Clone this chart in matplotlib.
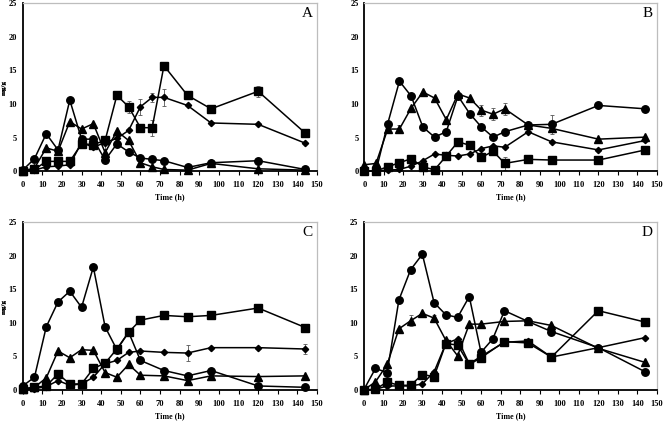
import matplotlib
matplotlib.use("Agg")
import matplotlib.pyplot as plt

# ---------------- data ----------------
times = [0, 6, 12, 18, 24, 30, 36, 42, 48, 54, 60, 66, 72, 84, 96, 120, 144]
times_no66 = [0, 6, 12, 18, 24, 30, 36, 42, 48, 54, 60, 72, 84, 96, 120, 144]

# Panel A
A_square = [0.1, 0.3, 1.5, 1.5, 1.5, 4.1, 4.0, 4.6, 11.3, 9.6, 6.5, 6.5, 15.7, 11.3, 9.3, 11.9, 5.7]
A_diamond = [0.0, 0.2, 0.7, 0.8, 1.0, 4.3, 3.6, 4.3, 4.9, 6.1, 9.6, 11.0, 11.0, 9.8, 7.2, 7.0, 4.2]
A_circle = [0.2, 1.9, 5.6, 3.2, 10.6, 4.8, 4.8, 1.7, 4.1, 2.9, 2.0, 1.8, 1.6, 0.6, 1.3, 1.6, 0.3]
A_triangle = [0.1, 0.5, 3.5, 3.0, 7.4, 6.3, 7.1, 2.8, 6.0, 4.6, 1.3, 0.7, 0.3, 0.2, 1.2, 0.4, 0.2]
A_square_err = [0, 0, 0, 0, 0, 0, 0, 0, 0.6, 0.9, 0, 1.2, 0, 0, 0, 0.8, 0]
A_diamond_err = [0, 0, 0, 0, 0, 0, 0, 0.9, 0, 0, 1.2, 0.7, 1.3, 0, 0, 0, 0]

# Panel B
B_circle = [0.1, 0.1, 7.1, 13.4, 11.2, 6.6, 5.1, 5.9, 11.2, 8.6, 6.6, 5.1, 5.9, 6.9, 7.0, 9.8, 9.3]
B_triangle = [1.0, 1.2, 6.3, 6.3, 9.4, 11.8, 10.9, 7.7, 11.5, 10.9, 9.1, 8.5, 9.3, 6.9, 6.4, 4.8, 5.1]
B_diamond = [0.0, 0.1, 0.2, 0.3, 0.8, 1.6, 2.6, 2.4, 2.3, 2.6, 3.4, 3.8, 3.6, 5.9, 4.4, 3.2, 4.6]
B_square = [0.1, 0.1, 0.7, 1.3, 1.9, 0.7, 0.25, 2.3, 4.4, 3.9, 2.1, 3.0, 1.2, 1.8, 1.7, 1.7, 3.2]
B_triangle_err = [0, 0, 0, 0.6, 0, 0, 0, 0, 0, 0, 0.8, 0.9, 0.9, 0, 0.6, 0, 0]
B_circle_err = [0, 0, 0, 0, 0, 0, 0, 0, 0, 0, 0, 0, 0, 0, 1.4, 0, 0]
B_square_err = [0, 0, 0, 0, 0, 0, 0, 0, 0, 0, 0, 0, 1.0, 0, 0, 0, 0]

# Panel C (no 66 h sample)
C_circle = [0.6, 1.9, 9.4, 13.1, 14.7, 12.3, 18.3, 9.4, 6.0, 8.6, 4.4, 2.9, 2.1, 2.9, 0.6, 0.4]
C_triangle = [0.2, 0.4, 1.8, 5.8, 4.8, 6.0, 5.9, 2.6, 1.9, 3.8, 2.2, 2.1, 1.4, 2.1, 2.0, 2.1]
C_square = [0.1, 0.4, 0.6, 2.4, 0.9, 0.9, 3.2, 4.0, 6.1, 8.6, 10.4, 11.1, 10.9, 11.1, 12.2, 9.3]
C_diamond = [0.0, 0.2, 0.5, 1.4, 0.7, 0.9, 1.9, 3.9, 4.4, 5.6, 5.8, 5.6, 5.5, 6.3, 6.3, 6.1]
C_diamond_err = [0, 0, 0, 0, 0, 0, 0, 0, 0, 0, 0, 0, 1.2, 0, 0, 0.7]
C_square_err = [0, 0, 0, 0, 0, 0, 0, 0, 0, 0, 0, 0, 0, 0, 0.5, 0]

# Panel D (only circle sampled at 66 h)
D_circle = [0.0, 3.2, 2.6, 13.4, 17.9, 20.2, 13.0, 11.2, 10.8, 13.9, 5.6, 7.6, 11.8, 10.2, 8.7, 6.3, 2.7]
D_triangle = [0.0, 1.2, 3.8, 9.1, 10.3, 11.4, 10.7, 7.4, 5.1, 9.8, 9.8, 10.2, 10.3, 9.6, 6.2, 4.1]
D_square = [0.0, 0.1, 1.2, 0.7, 0.7, 2.3, 2.0, 6.9, 6.7, 3.8, 4.8, 7.2, 7.0, 4.9, 11.8, 10.1]
D_diamond = [0.0, 0.1, 0.6, 0.6, 0.6, 0.9, 2.7, 6.9, 7.6, 3.9, 5.0, 7.1, 7.3, 4.9, 6.3, 7.8]
D_triangle_err = [0, 0, 0, 0, 0.8, 0, 0.5, 0, 0, 0, 0, 0, 0.6, 0, 0, 0]

x_ticks = list(range(0, 151, 10))
y_ticks = [0, 5, 10, 15, 20, 25]
x_label = "Time (h)"
y_label = "mg/g"
panel_labels = ["A", "B", "C", "D"]

# ---------------- styling ----------------
FONT = "Liberation Serif"
MSTYLE = {
    "s": dict(marker="s", ms=5.6),
    "o": dict(marker="o", ms=5.4),
    "^": dict(marker="^", ms=5.2),
    "D": dict(marker="D", ms=3.2),
}


def series(ax, t, y, m, err=None):
    ax.plot(t, y, color="black", lw=1.1, mfc="black", mec="black",
            clip_on=False, zorder=3, **MSTYLE[m])
    if err is not None:
        te = [ti for ti, e in zip(t, err) if e > 0]
        ye = [yi for yi, e in zip(y, err) if e > 0]
        ee = [e for e in err if e > 0]
        if te:
            ax.errorbar(te, ye, yerr=ee, fmt="none", ecolor="#555555",
                        elinewidth=0.6, capsize=1.6, capthick=0.6, zorder=2)


fig = plt.figure(figsize=(6.64, 4.22), dpi=100)
W, H = 664.0, 422.0
boxes = [
    (22.7, 3.0, 317.0, 171.5),
    (364.3, 3.0, 657.0, 171.5),
    (22.7, 222.0, 317.0, 390.0),
    (363.7, 222.0, 657.0, 390.0),
]
axes = []
for (x0, y0, x1, y1) in boxes:
    ax = fig.add_axes([x0 / W, 1 - y1 / H, (x1 - x0) / W, (y1 - y0) / H])
    axes.append(ax)

panels = [
    [(times, A_square, "s", A_square_err), (times, A_diamond, "D", A_diamond_err),
     (times, A_circle, "o", None), (times, A_triangle, "^", None)],
    [(times, B_circle, "o", B_circle_err), (times, B_triangle, "^", B_triangle_err),
     (times, B_diamond, "D", None), (times, B_square, "s", B_square_err)],
    [(times_no66, C_circle, "o", None), (times_no66, C_triangle, "^", None),
     (times_no66, C_square, "s", C_square_err), (times_no66, C_diamond, "D", C_diamond_err)],
    [(times, D_circle, "o", None), (times_no66, D_triangle, "^", D_triangle_err),
     (times_no66, D_square, "s", None), (times_no66, D_diamond, "D", None)],
]

for ax, lab, pdata, box in zip(axes, panel_labels, panels, boxes):
    for t, y, m, e in pdata:
        series(ax, t, y, m, e)
    ax.set_xlim(0, 150)
    ax.set_ylim(0, 25)
    ax.set_xticks(x_ticks)
    ax.set_yticks(y_ticks)
    ax.set_xticklabels([str(v) for v in x_ticks], fontfamily=FONT,
                       fontweight="bold", fontsize=6.0)
    ax.set_yticklabels([str(v) for v in y_ticks], fontfamily=FONT,
                       fontweight="bold", fontsize=6.0)
    ax.tick_params(axis="x", direction="out", length=3, width=0.8, pad=4)
    ax.tick_params(axis="y", direction="out", length=0, width=0.8, pad=4)
    for s in ("left", "bottom"):
        ax.spines[s].set_color("black")
        ax.spines[s].set_linewidth(1.3)
    for s in ("top", "right"):
        ax.spines[s].set_color("#bdbdbd")
        ax.spines[s].set_linewidth(0.9)
    ax.set_xlabel(x_label, fontfamily=FONT, fontweight="bold", fontsize=5.8,
                  labelpad=3)
    ax.set_ylabel(y_label, fontfamily=FONT, fontweight="bold", fontsize=5.0)
    # place the y label centre ~6 px left of the figure content edge
    x0, y0, x1, y1 = box
    ax.yaxis.set_label_coords(-(x0 - 6.5) / (x1 - x0), 0.5)
    ax.text(0.985, 0.975, lab, transform=ax.transAxes, ha="right", va="top",
            fontfamily=FONT, fontsize=11)

fig.savefig("out.png", dpi=100)
